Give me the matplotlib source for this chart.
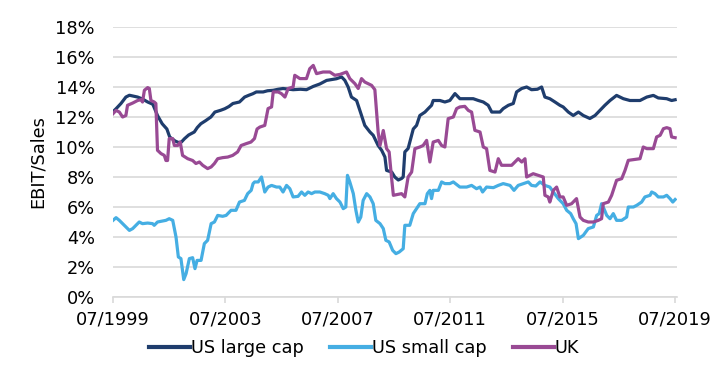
import matplotlib
matplotlib.use("Agg")
import matplotlib.pyplot as plt
from matplotlib.ticker import FuncFormatter, MultipleLocator

plt.rcParams['font.family'] = ['DejaVu Sans']

# x = months since 07/1999
tick_months = [0, 48, 96, 144, 192, 240]
tick_labels = ["07/1999", "07/2003", "07/2007", "07/2011", "07/2015", "07/2019"]

large_m = [0, 1.3, 3.4, 5.5, 7, 10.5, 12.6, 14.8, 17, 19, 21, 23, 24.2, 26.5, 28, 29.2, 30.5, 32.3,
           34.7, 36, 37.5, 39.5, 41.8, 43.5, 46, 47.7, 49.5, 51.2, 54, 56.2, 58, 59.7, 61.2, 64.1,
           66, 68.4, 70.5, 72.6, 76.9, 80, 82.6, 85.5, 88.3, 91.2, 95.4, 97.6, 99, 100.4, 101.8,
           104, 105.4, 107.5, 109.7, 111.1, 113.2, 114.7, 116.1, 116.8, 119, 120.3, 121.8, 123.2,
           123.9, 124.6, 126, 128.2, 129.6, 131, 133.2, 134.6, 136, 136.7, 139.6, 141.7, 143.8,
           146, 148.1, 151, 153.8, 156, 158.1, 160.2, 161.7, 165.2, 166.6, 168.8, 170.9, 172.3,
           174.5, 176.6, 178.7, 181.2, 183, 184.4, 186.5, 188.7, 190.8, 192.2, 194.4, 196.5,
           198.7, 200.8, 203.6, 205.8, 207.9, 210, 212.2, 215, 217.9, 220.7, 225, 227.9, 230.7,
           232.8, 236.4, 238.5, 240]
large_v = [12.35, 12.55, 12.9, 13.33, 13.45, 13.33, 13.2, 13.0, 12.85, 12.1, 11.55, 11.2, 10.67,
           10.4, 10.3, 10.33, 10.55, 10.8, 11.0, 11.3, 11.55, 11.75, 12.0, 12.33, 12.45, 12.55,
           12.7, 12.9, 13.0, 13.33, 13.45, 13.55, 13.67, 13.67, 13.75, 13.78, 13.85, 13.9, 13.82,
           13.85, 13.82, 14.04, 14.2, 14.44, 14.55, 14.67, 14.44, 14.0, 13.33, 13.1, 12.44, 11.44,
           11.0, 10.78, 10.1, 9.78, 9.33, 8.44, 8.33, 8.0, 7.8, 7.9, 8.0, 9.67, 9.9, 11.2, 11.44,
           12.1, 12.33, 12.56, 12.78, 13.1, 13.1, 13.0, 13.1, 13.56, 13.22, 13.22, 13.22, 13.1,
           13.0, 12.78, 12.33, 12.33, 12.56, 12.78, 12.9, 13.67, 13.9, 14.0, 13.82, 13.85, 14.0,
           13.33, 13.22, 13.0, 12.78, 12.67, 12.33, 12.1, 12.33, 12.1, 11.9, 12.1, 12.44, 12.78,
           13.1, 13.44, 13.22, 13.1, 13.1, 13.33, 13.44, 13.27, 13.22, 13.1, 13.15]

small_m = [0, 1.3, 2.7, 4.1, 5.5, 7, 8.4, 9.8, 11.2, 12.6, 14.8, 16.9, 17.6, 19, 21.2, 22.6, 24,
           25.5, 26.9, 27.9, 29, 30.2, 31.2, 32.6, 34, 35, 35.9, 37.6, 39, 40.4, 41.9, 43.3, 44.7,
           46.8, 48.3, 50.4, 52.5, 54, 56.1, 57.5, 59, 59.8, 60.5, 62, 63.4, 64.8, 66.2, 67.7,
           69.8, 71.2, 72.6, 74.1, 75.5, 76.9, 79, 80.5, 81.9, 83.3, 84.8, 86.2, 88.3, 90.4, 91.9,
           92.6, 94, 95.4, 96.9, 98.3, 99.4, 100.1, 101.1, 102.6, 103.7, 104.7, 105.8, 106.8,
           108.3, 109.7, 111.1, 112.2, 114, 115.4, 116.5, 117.9, 119.4, 120.8, 122.2, 123.9,
           124.6, 126.7, 128.2, 129.6, 131, 133.2, 134.2, 135.3, 136, 136.7, 138.9, 140.3, 141.7,
           143.8, 145.3, 148.1, 151, 153.1, 155.2, 156.7, 157.8, 159.5, 162.4, 164.5, 166.6,
           169.5, 171.2, 173, 175.2, 177.3, 178.7, 180.5, 182.3, 184.4, 186.5, 188, 190.1, 192.2,
           193.7, 195.4, 196.5, 197.7, 198.7, 200.8, 202.9, 205.1, 206.5, 207.6, 208.6, 209.6,
           210.8, 212.2, 213.6, 215, 217.2, 219.3, 220, 222.2, 223.6, 225.7, 227.1, 229.3, 230,
           231.4, 232.8, 235, 236.4, 237.8, 239, 240]
small_v = [5.11, 5.29, 5.11, 4.89, 4.67, 4.44, 4.56, 4.78, 5.0, 4.89, 4.93, 4.89, 4.78, 5.0, 5.07,
           5.11, 5.22, 5.11, 4.0, 2.67, 2.56, 1.16, 1.56, 2.56, 2.62, 1.89, 2.44, 2.44, 3.56, 3.78,
           4.89, 5.0, 5.44, 5.38, 5.44, 5.78, 5.78, 6.33, 6.44, 6.89, 7.11, 7.56, 7.67, 7.67, 8.0,
           7.0, 7.33, 7.44, 7.33, 7.33, 7.0, 7.44, 7.22, 6.67, 6.71, 7.0, 6.78, 7.0, 6.89, 7.0,
           7.0, 6.89, 6.78, 6.56, 6.89, 6.56, 6.33, 5.89, 6.0, 8.11, 7.67, 6.89, 5.78, 5.0, 5.33,
           6.44, 6.89, 6.67, 6.22, 5.11, 4.89, 4.56, 3.78, 3.67, 3.11, 2.89, 3.0, 3.22, 4.78, 4.78,
           5.56, 5.89, 6.22, 6.22, 6.89, 7.11, 6.56, 7.11, 7.11, 7.67, 7.56, 7.56, 7.67, 7.33,
           7.33, 7.44, 7.22, 7.33, 7.0, 7.33, 7.29, 7.44, 7.56, 7.44, 7.11, 7.44, 7.56, 7.67,
           7.44, 7.4, 7.67, 7.44, 7.33, 7.0, 6.56, 6.22, 5.78, 5.56, 5.22, 4.89, 3.89, 4.11, 4.56,
           4.67, 5.44, 5.56, 6.22, 5.89, 5.44, 5.22, 5.56, 5.11, 5.11, 5.33, 6.0, 6.0, 6.11, 6.33,
           6.67, 6.78, 7.0, 6.89, 6.67, 6.67, 6.78, 6.56, 6.33, 6.5]

uk_m = [0, 1.3, 2.7, 4.1, 5.5, 6.2, 8.4, 10.5, 11.9, 12.6, 13.4, 14.8, 15.5, 16.2, 17.6, 18.3, 19,
        20.5, 21.9, 22.6, 23.3, 24, 25.5, 26.2, 27.6, 28.7, 29.7, 31.9, 34, 35.4, 36.9, 38.3, 40.4,
        41.9, 43.3, 44.7, 46.8, 49, 51.1, 53.2, 54.7, 56.8, 58.9, 60.4, 61.5, 62.7, 64.8, 66.2,
        67.7, 68.4, 70.5, 71.9, 73.4, 74.8, 76.9, 77.6, 79.8, 82.6, 84, 85.5, 86.9, 89.7, 92.6,
        94.7, 96.9, 99.7, 101.1, 103.3, 104.7, 106.1, 107.5, 109, 110.4, 111.8, 113.2, 114, 115.4,
        116.8, 117.9, 118.9, 119.7, 123.2, 124.6, 126, 127.5, 128.9, 131, 132.4, 133.9, 135.3,
        136.7, 138.9, 140.3, 141.7, 143.1, 145.3, 146.7, 148.1, 150.2, 151.7, 153.1, 154.5, 156.7,
        158.1, 159.5, 160.9, 163.1, 164.5, 165.9, 168.1, 170.2, 171.6, 173, 174.5, 175.9, 176.6,
        178, 179.4, 181.6, 183.7, 184.4, 185.8, 186.5, 188, 189.4, 190.8, 192.2, 193.7, 195.8,
        197.9, 199.4, 200.8, 202.9, 205.1, 207.2, 208.6, 209.3, 211.5, 212.9, 215, 217.2, 218.6,
        220, 222.2, 225, 226.4, 227.9, 230.7, 232.1, 233.6, 235, 236.4, 237.8, 238.5, 240]
uk_v = [12.22, 12.44, 12.33, 12.0, 12.1, 12.78, 12.93, 13.1, 13.15, 13.0, 13.78, 13.96, 13.9, 13.1,
        13.0, 12.9, 9.78, 9.56, 9.44, 9.1, 9.1, 10.56, 10.56, 10.1, 10.1, 10.33, 9.44, 9.22, 9.1,
        8.9, 9.0, 8.78, 8.56, 8.67, 8.9, 9.22, 9.29, 9.33, 9.44, 9.67, 10.1, 10.22, 10.33, 10.56,
        11.2, 11.33, 11.44, 12.56, 12.67, 13.67, 13.67, 13.56, 13.33, 13.9, 14.0, 14.78, 14.56,
        14.56, 15.22, 15.44, 14.89, 15.0, 15.0, 14.78, 14.84, 15.0, 14.56, 14.22, 13.9, 14.56,
        14.33, 14.22, 14.11, 13.82, 11.0, 10.1, 11.1, 9.89, 9.67, 8.0, 6.78, 6.89, 6.67, 8.0,
        8.33, 9.89, 10.0, 10.1, 10.44, 9.0, 10.33, 10.44, 10.1, 10.0, 11.89, 12.0, 12.56, 12.67,
        12.71, 12.44, 12.33, 11.11, 11.0, 10.0, 9.89, 8.44, 8.33, 9.22, 8.78, 8.78, 8.78, 9.0,
        9.22, 9.0, 9.22, 8.0, 8.11, 8.22, 8.11, 8.0, 6.78, 6.67, 6.33, 7.11, 7.33, 6.67, 6.67,
        6.11, 6.22, 6.56, 5.33, 5.11, 5.0, 5.0, 5.11, 5.22, 6.22, 6.33, 6.78, 7.78, 7.89, 8.44,
        9.11, 9.16, 9.22, 10.0, 9.89, 9.89, 10.67, 10.78, 11.22, 11.29, 11.22, 10.67, 10.62]

series_names = ["US large cap", "US small cap", "UK"]
colors = ["#1F3D6D", "#45AEE3", "#994A94"]

fig = plt.figure(figsize=(7.28, 3.92), dpi=100)
ax = fig.add_axes([113 / 728, 1 - 297 / 392, (677 - 113) / 728, (297 - 27) / 392])

grid_c = "#D9D9D9"
for (m, v), name, c in zip([(large_m, large_v), (small_m, small_v), (uk_m, uk_v)],
                           series_names, colors):
    ax.plot(m, v, color=c, lw=2.3, label=name, solid_joinstyle='round', zorder=3)

ax.set_xlim(0, 240.8)
ax.set_ylim(0, 18)
ax.yaxis.set_major_locator(MultipleLocator(2))
ax.yaxis.set_major_formatter(FuncFormatter(lambda v, p: f"{v:.0f}%"))
ax.set_xticks(tick_months)
ax.set_xticklabels(tick_labels)
ax.grid(axis='y', color=grid_c, lw=1.2, zorder=0)
ax.set_axisbelow(True)
for s in ['top', 'right', 'left']:
    ax.spines[s].set_visible(False)
ax.spines['bottom'].set_color(grid_c)
ax.spines['bottom'].set_linewidth(1.2)
ax.tick_params(axis='y', length=0, pad=13, labelsize=12.8, labelcolor='black')
ax.tick_params(axis='x', length=4, width=1.2, color=grid_c, pad=6, labelsize=12.8)
ax.set_ylabel("EBIT/Sales", fontsize=12.8, labelpad=6)

fig.legend(loc='center', bbox_to_anchor=(0.5, 1 - 348 / 392), ncol=3, frameon=False,
           fontsize=12.8, handlelength=2.3, handletextpad=0.05, columnspacing=1.5,
           borderaxespad=0)
for lh in fig.legends[0].get_lines():
    lh.set_linewidth(3)

fig.savefig("out.png", dpi=100)
